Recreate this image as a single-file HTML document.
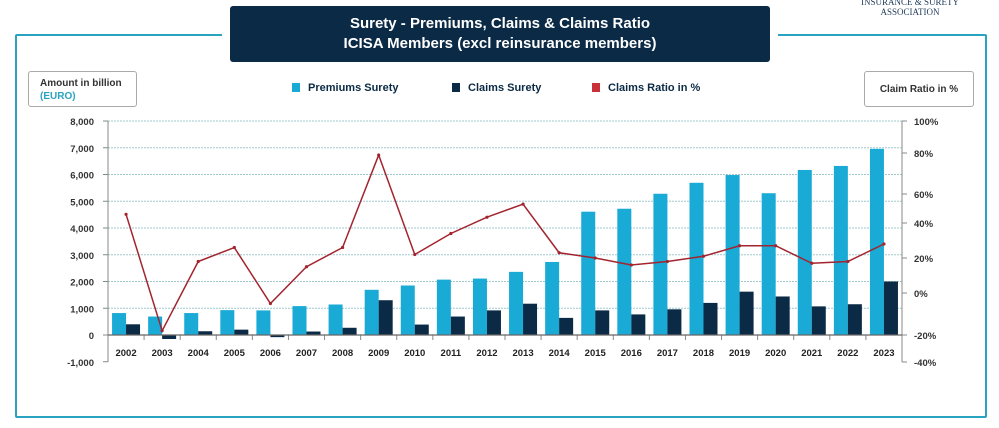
<!DOCTYPE html>
<html><head><meta charset="utf-8"><style>
body{margin:0;width:999px;height:428px;background:#fff;overflow:hidden;font-family:"Liberation Sans",sans-serif;position:relative}
.frame{position:absolute;left:15px;top:34px;width:968px;height:380px;border:2px solid #2aa3c0;border-radius:2px}
.title{position:absolute;left:230px;top:6px;width:540px;height:56px;background:#0b2a45;border-radius:3px;color:#fff;text-align:center;font-weight:bold;font-size:15px;line-height:20px;padding-top:8px;box-sizing:border-box}
.logo{position:absolute;left:850px;top:-3px;width:120px;text-align:center;font-family:"Liberation Serif",serif;font-size:9px;color:#1e3a5a;line-height:10px}
.box{position:absolute;border:1px solid #aaa;border-radius:3px;background:#fff;font-size:10px;font-weight:bold;color:#333;box-sizing:border-box}
.leg{position:absolute;top:82px;font-size:11px;font-weight:bold;color:#0b2a45}
.leg span{display:inline-block;width:8px;height:9px;margin-right:8px;vertical-align:-1px}
</style></head><body>
<div class="frame"></div>
<div style="position:absolute;left:222px;top:30px;width:556px;height:8px;background:#fff"></div>
<div class="title">Surety - Premiums, Claims &amp; Claims Ratio<br>ICISA Members (excl reinsurance members)</div>
<div class="logo">INSURANCE &amp; SURETY<br>ASSOCIATION</div>
<div class="box" style="left:28px;top:71px;width:109px;height:36px;padding:5px 0 0 11px;line-height:13px">Amount in billion<br><span style="color:#2aa3c0">(EURO)</span></div>
<div class="box" style="left:864px;top:71px;width:110px;height:36px;padding-top:12px;text-align:center">Claim Ratio in %</div>
<div class="leg" style="left:292px"><span style="background:#1aaad6"></span>Premiums Surety</div>
<div class="leg" style="left:452px"><span style="background:#0b2a45"></span>Claims Surety</div>
<div class="leg" style="left:592px"><span style="background:#c8303a"></span>Claims Ratio in %</div>
<svg id="c" width="999" height="428" style="position:absolute;left:0;top:0"></svg>
<script>
const years=["2002","2003","2004","2005","2006","2007","2008","2009","2010","2011","2012","2013","2014","2015","2016","2017","2018","2019","2020","2021","2022","2023"];
const premiums=[820,690,820,930,920,1080,1140,1690,1850,2070,2110,2360,2730,4610,4720,5280,5690,5980,5300,6170,6320,6960];
const claims=[400,-150,140,200,-80,130,270,1300,390,690,920,1170,640,920,770,960,1200,1620,1440,1070,1150,2000];
const ratio=[46,-18,18,26,-5,15,26,79,22,34,44,53,23,20,16,18,21,27,27,17,18,28];
const leftTicks=[8000,7000,6000,5000,4000,3000,2000,1000,0,-1000];
const rightTicks=[100,80,60,40,20,0,-20,-40];
const rightTickY=[121,153,194,223,258,293,335,362];
const NS="http://www.w3.org/2000/svg";
const svg=document.getElementById('c');
const x0=108,x1=902,cw=(x1-x0)/years.length;
function yL(v){return 335-v*0.02675;}
function xC(i){return x0+cw*(i+0.5)+1;}
function yR(p){for(let k=0;k<rightTicks.length-1;k++){const a=rightTicks[k],b=rightTicks[k+1];if(p<=a&&p>=b)return rightTickY[k]+(a-p)/(a-b)*(rightTickY[k+1]-rightTickY[k]);}return p>100?121:362;}
function mk(t,a){const e=document.createElementNS(NS,t);for(const k in a)e.setAttribute(k,a[k]);svg.appendChild(e);return e;}
leftTicks.forEach(v=>{const y=yL(v);
 if(v!==0&&v!==-1000){const g=mk('line',{x1:x0,x2:x1,y1:y,y2:y,stroke:'#9fc9cf','stroke-width':1,'stroke-dasharray':'2,1'});}
 mk('line',{x1:x0-5,x2:x0,y1:y,y2:y,stroke:'#888'});
 const t=mk('text',{x:94,y:y+4,'text-anchor':'end','font-size':'9.5','font-weight':'bold',fill:'#333'});t.textContent=v.toLocaleString('en-US');
 });
mk('line',{x1:x0,x2:x0,y1:121,y2:362,stroke:'#888'});
mk('line',{x1:x1,x2:x1,y1:121,y2:362,stroke:'#888'});
rightTicks.forEach((p,i)=>{const y=yR(p);mk('line',{x1:x1,x2:x1+5,y1:y,y2:y,stroke:'#888'});
 const t=mk('text',{x:914,y:y+4,'font-size':'9.5','font-weight':'bold',fill:'#333'});t.textContent=p+'%';
 });
years.forEach((yr,i)=>{const c=xC(i);
 const p=premiums[i],q=claims[i];
 const b1=mk('rect',{x:c-15,y:Math.min(yL(p),yL(0)),width:14,height:Math.abs(yL(p)-yL(0)),fill:'#1aaad6'});
 
 const b2=mk('rect',{x:c-1,y:Math.min(yL(q),yL(0)),width:14,height:Math.abs(yL(q)-yL(0)),fill:'#0b2a45'});
 
 const t=mk('text',{x:c-1,y:356,'text-anchor':'middle','font-size':'9.5','font-weight':'bold',fill:'#222'});t.textContent=yr;
 
 mk('line',{x1:x0+cw*(i+1),x2:x0+cw*(i+1),y1:335,y2:340,stroke:'#888'});});
mk('line',{x1:x0,x2:x1,y1:yL(0),y2:yL(0),stroke:'#666','stroke-width':1.2});
const pts=ratio.map((r,i)=>(xC(i)-1)+','+yR(r)).join(' ');
const l=mk('polyline',{points:pts,fill:'none',stroke:'#a3242e','stroke-width':1.5});

ratio.forEach((r,i)=>{const d=mk('circle',{cx:xC(i)-1,cy:yR(r),r:1.6,fill:'#a3242e'});
 });
</script>
</body></html>
